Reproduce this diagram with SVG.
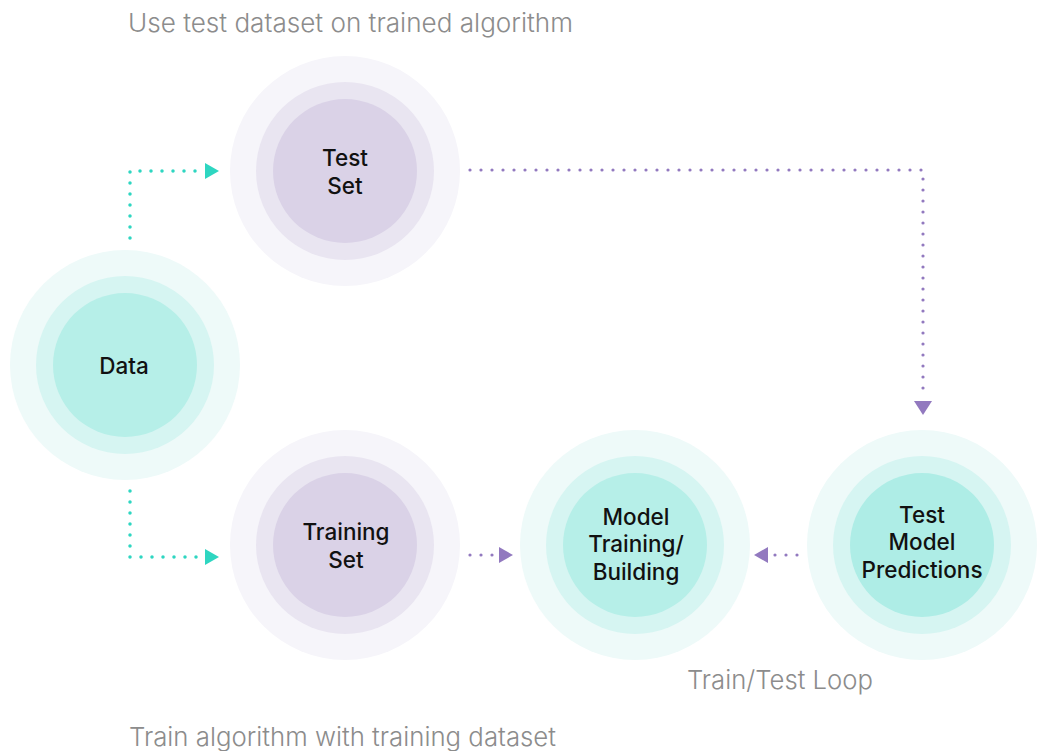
<svg xmlns="http://www.w3.org/2000/svg" width="1042" height="751" viewBox="0 0 1042 751">
<style>
.t1{fill:#eefaf9}.t2{fill:#d6f5f2}.t3{fill:#b6efe8}
.p1{fill:#f6f5fa}.p2{fill:#e9e5f1}.p3{fill:#dad2e7}
.lbl{font-family:Inter,"Liberation Sans",sans-serif;font-size:22.5px;font-weight:500;fill:#111;text-anchor:middle}
.cap{font-family:Inter,"Liberation Sans",sans-serif;font-size:26px;font-weight:300;fill:#8c8c8c}
.dt{fill:none;stroke:#2ed6c1;stroke-width:3.5;stroke-linecap:round;stroke-dasharray:0 11}
.dp{fill:none;stroke:#9279bf;stroke-width:3.2;stroke-linecap:round;stroke-dasharray:0 11}
</style>
<rect width="1042" height="751" fill="#fff"/>
<g id="node-data">
<circle class="t1" cx="125" cy="365" r="115"/><circle class="t2" cx="125" cy="365" r="89"/><circle class="t3" cx="125" cy="365" r="72"/>
<text class="lbl" x="124" y="374">Data</text>
</g>
<g id="node-testset">
<circle class="p1" cx="345" cy="171" r="115"/><circle class="p2" cx="345" cy="171" r="89"/><circle class="p3" cx="345" cy="171" r="72"/>
<text class="lbl" x="345" y="166">Test</text><text class="lbl" x="345" y="194">Set</text>
</g>
<g id="node-trainingset">
<circle class="p1" cx="345" cy="545" r="115"/><circle class="p2" cx="345" cy="545" r="89"/><circle class="p3" cx="345" cy="545" r="72"/>
<text class="lbl" x="346" y="540">Training</text><text class="lbl" x="346" y="568">Set</text>
</g>
<g id="node-model">
<circle class="t1" cx="635" cy="545" r="115"/><circle class="t2" cx="635" cy="545" r="89"/><circle class="t3" cx="635" cy="545" r="72"/>
<text class="lbl" x="636" y="525">Model</text><text class="lbl" x="636" y="552">Training/</text><text class="lbl" x="636" y="580">Building</text>
</g>
<g id="node-predictions">
<circle class="t1" cx="922" cy="545" r="115"/><circle class="t2" cx="922" cy="545" r="89"/><circle class="t3" cx="922" cy="545" r="72" style="fill:#aeede6"/>
<text class="lbl" x="922" y="523">Test</text><text class="lbl" x="922" y="550">Model</text><text class="lbl" x="922" y="578">Predictions</text>
</g>
<g id="connectors">
<path class="dt" d="M130 238 L130 171 L197 171"/>
<polygon points="205,163 219,171 205,179" fill="#2ed6c1"/>
<path class="dt" d="M130 491 L130 557 L197 557"/>
<polygon points="205,549 219,557 205,565" fill="#2ed6c1"/>
<path class="dp" d="M470 170 L923 170 L923 390"/>
<polygon points="914,401 932,401 923,415" fill="#9279bf"/>
<path class="dp" d="M470 555 L493 555"/>
<polygon points="499,547 513,555 499,563" fill="#9279bf"/>
<path class="dp" d="M797 555 L774 555"/>
<polygon points="768,547 754,555 768,563" fill="#9279bf"/>
</g>
<g id="captions">
<text class="cap" x="128" y="32" textLength="445" lengthAdjust="spacingAndGlyphs">Use test dataset on trained algorithm</text>
<text class="cap" x="687" y="689" textLength="186" lengthAdjust="spacingAndGlyphs">Train/Test Loop</text>
<text class="cap" x="129" y="746" textLength="427" lengthAdjust="spacingAndGlyphs">Train algorithm with training dataset</text>
</g>
</svg>
